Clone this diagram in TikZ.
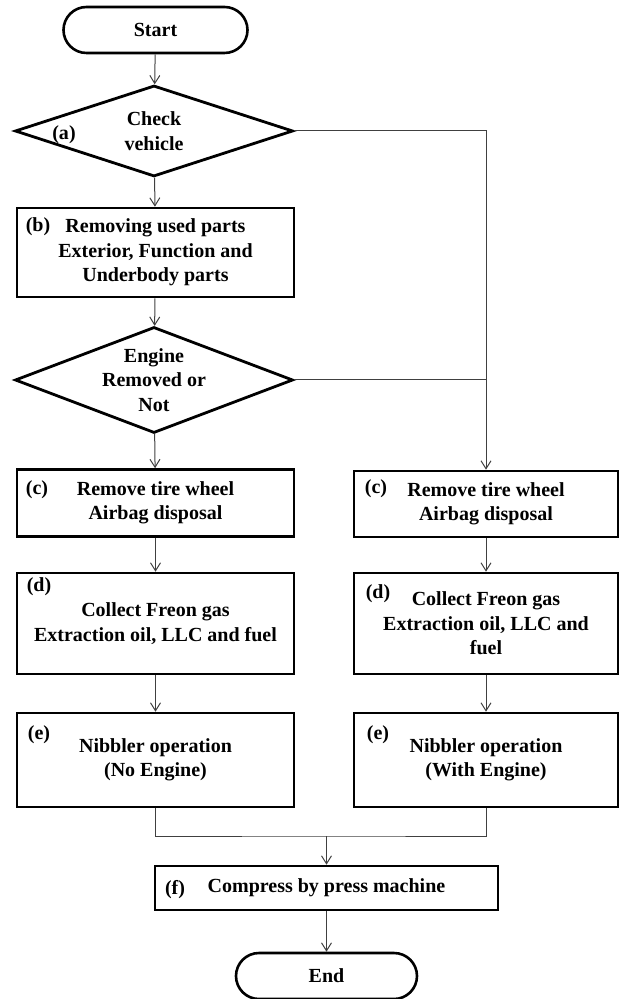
\documentclass[tikz,border=0pt]{standalone}
\usepackage{fontspec}
\setmainfont{Liberation Serif}
\usepackage{tikz}
\usetikzlibrary{arrows.meta,positioning,shapes.geometric}

\begin{document}
\begin{tikzpicture}[x=0.5pt, y=-0.5pt,
        >={Straight Barb[length=4pt,width=5pt]},
        every node/.style={font=\fontsize{10}{12.2}\selectfont\bfseries, align=center},
        term/.style={draw, line width=1.3pt, rounded corners=11.5pt, minimum width=92pt, minimum height=23pt, inner sep=0pt},
        proc/.style={draw, line width=1.3pt, minimum height=#1, inner sep=0pt},
        deci/.style={draw, diamond, aspect=3, line width=1.4pt, inner sep=-8pt, minimum width=139pt, minimum height=#1},
        tag/.style={inner sep=0pt},
        line/.style={line width=0.5pt, black!75}]
    \useasboundingbox (0,0) rectangle (621,999);

    % Start and first check
    \node[term] (start) at (155.5,30) {Start};
    \node[deci=45.5pt] (chk) at (154,131) {Check\\vehicle};
    \node[tag] (ta) at (64,135) {(a)};

    % Removing used parts
    \node[proc=44.5pt, minimum width=138.5pt] (parts) at (155.5,252.5)
        {Removing used parts\\Exterior, Function and\\Underbody parts};
    \node[tag] (tb) at (38,227) {(b)};

    % Engine decision
    \node[deci=53pt] (eng) at (154,380) {Engine\\Removed or\\Not};

    % Left branch: no engine
    \node[proc=33.5pt, minimum width=138.5pt] (tireL) at (155.5,503) {Remove tire wheel\\Airbag disposal};
    \node[proc=50.5pt, minimum width=138.5pt] (gasL) at (155.5,623.5) {Collect Freon gas\\Extraction oil, LLC and fuel};
    \node[proc=47pt, minimum width=138.5pt] (nibL) at (155.5,760) {Nibbler operation\\(No Engine)};
    \node[tag] (tcL) at (37,490) {(c)};
    \node[tag] (tdL) at (39,587) {(d)};
    \node[tag] (teL) at (39,735) {(e)};

    % Right branch: with engine
    \node[proc=33pt, minimum width=132pt] (tireR) at (486,504) {Remove tire wheel\\Airbag disposal};
    \node[proc=50.5pt, minimum width=132pt] (gasR) at (486,623.5) {Collect Freon gas\\Extraction oil, LLC and\\fuel};
    \node[proc=47pt, minimum width=132pt] (nibR) at (486,760) {Nibbler operation\\(With Engine)};
    \node[tag] (tcR) at (376,489) {(c)};
    \node[tag] (tdR) at (378,594) {(d)};
    \node[tag] (teR) at (378,735) {(e)};

    % Press and end
    \node[proc=22pt, minimum width=171.5pt] (press) at (326.5,888) {Compress by press machine};
    \node[tag] (tf) at (175,890) {(f)};
    \node[term, minimum width=90.5pt] (stop) at (326.5,976) {End};
    \coordinate (mrg) at (326.5,836);

    % Connectors
    \draw[line,->] (start) -- (chk);
    \draw[line,->] (chk) -- (parts);
    \draw[line,->] (parts) -- (eng);
    \draw[line,->] (eng) -- (tireL);
    \draw[line,->] (chk.east) -| (tireR.north);
    \draw[line] (eng.east) -- (eng.east -| tireR.north);
    \draw[line,->] (tireL) -- (gasL);
    \draw[line,->] (gasL) -- (nibL);
    \draw[line,->] (tireR) -- (gasR);
    \draw[line,->] (gasR) -- (nibR);
    \draw[line] (nibL.south) |- (mrg) -| (nibR.south);
    \draw[line,->] (mrg) -- (press);
    \draw[line,->] (press) -- (stop);
\end{tikzpicture}
\end{document}
